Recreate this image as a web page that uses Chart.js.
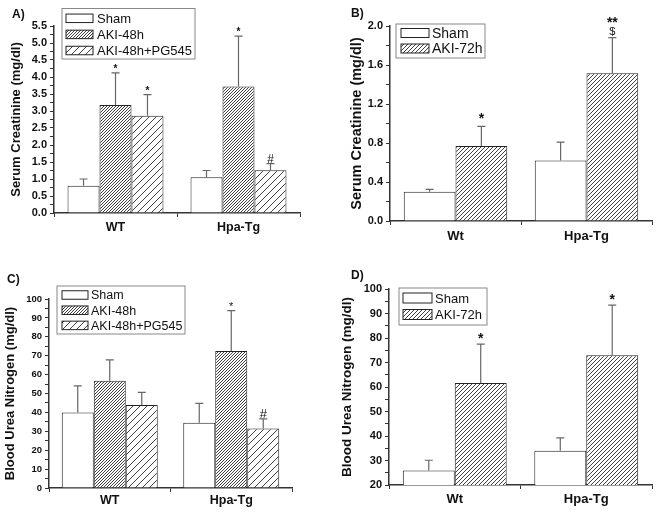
<!DOCTYPE html>
<html>
<head>
<meta charset="utf-8">
<script src="https://cdn.jsdelivr.net/npm/chart.js@4.4.1/dist/chart.umd.min.js"></script>
<style>
  body { margin: 0; background: #fff; }
  #wrap { position: relative; width: 656px; height: 517px; }
  canvas { position: absolute; left: 0; top: 0; }
  .tag { position: absolute; font: bold 12px "Liberation Sans", Arial, sans-serif; color: #111; }
</style>
</head>
<body>
<div id="wrap">
  <canvas id="cA" width="656" height="517"></canvas>
  <canvas id="cB" width="656" height="517"></canvas>
  <canvas id="cC" width="656" height="517"></canvas>
  <canvas id="cD" width="656" height="517"></canvas>
  <div class="tag" style="left:12px;top:7px">A)</div>
  <div class="tag" style="left:351px;top:6px">B)</div>
  <div class="tag" style="left:7px;top:272px">C)</div>
  <div class="tag" style="left:351px;top:268px">D)</div>
</div>
<script>
// groups on the x axis
const groupsA = ["WT", "Hpa-Tg"];
const groupsB = ["Wt", "Hpa-Tg"];

// A) serum creatinine, 48h (mean and upper error)
const shamA = [0.80, 1.05];
const shamErrA = [0.20, 0.20];
const aki48A = [3.18, 3.72];
const aki48ErrA = [0.94, 1.48];
const pg545A = [2.86, 1.26];
const pg545ErrA = [0.62, 0.19];
const marksA = { sham: ["", ""], aki: ["*", "*"], pg: ["*", "#"] };

// B) serum creatinine, 72h
const shamB = [0.30, 0.62];
const shamErrB = [0.025, 0.19];
const aki72B = [0.77, 1.515];
const aki72ErrB = [0.20, 0.365];
const marksB = { sham: ["", ""], aki: ["*", "**\n$"] };

// C) blood urea nitrogen, 48h
const shamC = [40.0, 34.5];
const shamErrC = [14.0, 10.3];
const aki48C = [56.8, 72.5];
const aki48ErrC = [11.0, 21.3];
const pg545C = [43.9, 31.5];
const pg545ErrC = [6.7, 5.1];
const marksC = { sham: ["", ""], aki: ["", "*"], pg: ["", "#"] };

// D) blood urea nitrogen, 72h
const shamD = [25.9, 34.0];
const shamErrD = [4.2, 5.2];
const aki72D = [61.6, 73.0];
const aki72ErrD = [15.9, 20.4];
const marksD = { sham: ["", ""], aki: ["*", "*"] };

const FONT = '"Liberation Sans", Arial, sans-serif';

// diagonal "/" hatch as a canvas pattern
function hatch(ctx, gap) {
  const t = document.createElement("canvas");
  t.width = gap; t.height = gap;
  const g = t.getContext("2d");
  g.fillStyle = "#fff";
  g.fillRect(0, 0, gap, gap);
  g.strokeStyle = "#2a2a2a";
  g.lineWidth = 0.9;
  g.beginPath();
  g.moveTo(0, gap); g.lineTo(gap, 0);
  g.moveTo(-1, 1); g.lineTo(1, -1);
  g.moveTo(gap - 1, gap + 1); g.lineTo(gap + 1, gap - 1);
  g.stroke();
  return ctx.createPattern(t, "repeat");
}

// upper error whiskers + significance marks
const errorBars = {
  id: "errorBars",
  afterDatasetsDraw(chart, args, o) {
    const c = chart.ctx, y = chart.scales.y;
    chart.data.datasets.forEach((ds, i) => {
      chart.getDatasetMeta(i).data.forEach((bar, j) => {
        const top = y.getPixelForValue(ds.data[j] + ds.err[j]);
        c.save();
        c.strokeStyle = "#666";
        c.lineWidth = 1.2;
        c.beginPath();
        c.moveTo(bar.x, bar.y);
        c.lineTo(bar.x, top);
        c.moveTo(bar.x - 4, top);
        c.lineTo(bar.x + 4, top);
        c.stroke();
        const m = ds.marks[j];
        if (m) {
          c.fillStyle = "#111";
          c.textAlign = "center";
          c.textBaseline = "alphabetic";
          m.split("\n").reverse().forEach((t, k) => {
            // stars use the bold mark font, # and $ a lighter one
            c.font = t.indexOf("*") >= 0 ? o.markFont : o.subFont;
            c.fillText(t, bar.x, top - o.markGap - k * o.markLine);
          });
        }
        c.restore();
      });
    });
  }
};

// boxed legend inside the plot, like the original figure
const boxLegend = {
  id: "boxLegend",
  afterDraw(chart, args, o) {
    const c = chart.ctx;
    c.save();
    c.strokeStyle = "#888";
    c.lineWidth = 1;
    c.strokeRect(o.x, o.y, o.w, o.h);
    c.font = o.font;
    c.textBaseline = "middle";
    chart.data.datasets.forEach((ds, i) => {
      const cy = o.row0 + i * o.step;
      c.fillStyle = ds.backgroundColor;
      c.fillRect(o.sx, cy - o.sh / 2, o.sw, o.sh);
      c.strokeStyle = "#222";
      c.strokeRect(o.sx, cy - o.sh / 2, o.sw, o.sh);
      c.fillStyle = "#111";
      c.fillText(ds.label, o.tx, cy + 1);
    });
    c.restore();
  }
};

function buildChart(id, p) {
  const ctx = document.getElementById(id).getContext("2d");
  const datasets = p.series.map(s => ({
    label: s.label,
    data: s.data,
    err: s.err,
    marks: s.marks,
    backgroundColor: s.gap ? hatch(ctx, s.gap) : "#fff",
    borderColor: "#222",
    borderWidth: 1,
    categoryPercentage: p.catPct,
    barPercentage: 1
  }));
  return new Chart(ctx, {
    type: "bar",
    data: { labels: p.labels, datasets: datasets },
    options: {
      responsive: false,
      animation: false,
      layout: {
        padding: { left: p.panelLeft, top: p.top, right: 656 - p.right, bottom: 517 - p.bottom - 30 }
      },
      scales: {
        x: {
          afterFit(s) { s.height = 30; },
          grid: { display: true, drawOnChartArea: false, tickLength: 4, color: "#333" },
          border: { color: "#333", width: 1.5 },
          ticks: { color: "#111", padding: p.xPad, font: { family: FONT, size: p.xFont, weight: "bold" } }
        },
        y: {
          min: p.min,
          max: p.max,
          afterFit(s) { s.width = p.left - p.panelLeft; },
          grid: { display: true, drawOnChartArea: false, tickLength: 4, color: "#333" },
          border: { color: "#333", width: 1.5 },
          ticks: {
            stepSize: p.minor,
            autoSkip: false,
            color: "#111",
            padding: 3,
            font: { family: FONT, size: p.tickFont, weight: "bold" },
            callback(v) {
              const r = v / p.major;
              return Math.abs(r - Math.round(r)) < 1e-6 ? v.toFixed(p.dec) : "";
            }
          },
          title: {
            display: true,
            text: p.yTitle,
            color: "#111",
            padding: { top: p.titlePad, bottom: 0 },
            font: { family: FONT, size: p.titleFont, weight: "bold" }
          }
        }
      },
      plugins: {
        legend: { display: false },
        tooltip: { enabled: false },
        errorBars: p.errOpts,
        boxLegend: p.legend
      }
    },
    plugins: [errorBars, boxLegend]
  });
}

buildChart("cA", {
  labels: groupsA, panelLeft: 0, left: 54, top: 26, right: 300, bottom: 213,
  min: 0, max: 5.5, minor: 0.25, major: 0.5, dec: 1, catPct: 0.78,
  tickFont: 11, xFont: 12.5, xPad: 3, titleFont: 13, titlePad: 8.7,
  yTitle: "Serum Creatinine (mg/dl)",
  series: [
    { label: "Sham", data: shamA, err: shamErrA, marks: marksA.sham, gap: 0 },
    { label: "AKI-48h", data: aki48A, err: aki48ErrA, marks: marksA.aki, gap: 3 },
    { label: "AKI-48h+PG545", data: pg545A, err: pg545ErrA, marks: marksA.pg, gap: 7 }
  ],
  errOpts: { markFont: "bold 10px " + FONT, subFont: "12px " + FONT, markGap: 1, markLine: 8 },
  legend: { x: 62, y: 8.5, w: 133, h: 50.5, row0: 18.3, step: 16.1, sx: 66, sw: 27, sh: 8.5, tx: 97, font: "13px " + FONT }
});

buildChart("cB", {
  labels: groupsB, panelLeft: 330, left: 390, top: 26, right: 652, bottom: 221,
  min: 0, max: 2.0, minor: 0.2, major: 0.4, dec: 1, catPct: 0.79,
  tickFont: 11, xFont: 13, xPad: 4, titleFont: 14.5, titlePad: 18,
  yTitle: "Serum Creatinine (mg/dl)",
  series: [
    { label: "Sham", data: shamB, err: shamErrB, marks: marksB.sham, gap: 0 },
    { label: "AKI-72h", data: aki72B, err: aki72ErrB, marks: marksB.aki, gap: 4 }
  ],
  errOpts: { markFont: "bold 14px " + FONT, subFont: "11px " + FONT, markGap: 3, markLine: 8 },
  legend: { x: 396, y: 24, w: 89, h: 34, row0: 33, step: 15.5, sx: 401, sw: 28, sh: 9, tx: 432, font: "14px " + FONT }
});

buildChart("cC", {
  labels: groupsA, panelLeft: 0, left: 49, top: 299, right: 292, bottom: 488,
  min: 0, max: 100, minor: 5, major: 10, dec: 0, catPct: 0.79,
  tickFont: 9.5, xFont: 12.5, xPad: 1, titleFont: 13, titlePad: 2.7,
  yTitle: "Blood Urea Nitrogen (mg/dl)",
  series: [
    { label: "Sham", data: shamC, err: shamErrC, marks: marksC.sham, gap: 0 },
    { label: "AKI-48h", data: aki48C, err: aki48ErrC, marks: marksC.aki, gap: 3 },
    { label: "AKI-48h+PG545", data: pg545C, err: pg545ErrC, marks: marksC.pg, gap: 7 }
  ],
  errOpts: { markFont: "11px " + FONT, subFont: "13px " + FONT, markGap: 1, markLine: 8 },
  legend: { x: 57, y: 286, w: 128, h: 48, row0: 295, step: 15.2, sx: 62, sw: 26, sh: 8.5, tx: 91, font: "12.5px " + FONT }
});

buildChart("cD", {
  labels: groupsB, panelLeft: 330, left: 389, top: 289, right: 652, bottom: 485,
  min: 20, max: 100, minor: 5, major: 10, dec: 0, catPct: 0.79,
  tickFont: 11, xFont: 13, xPad: 3, titleFont: 13.5, titlePad: 8.9,
  yTitle: "Blood Urea Nitrogen (mg/dl)",
  series: [
    { label: "Sham", data: shamD, err: shamErrD, marks: marksD.sham, gap: 0 },
    { label: "AKI-72h", data: aki72D, err: aki72ErrD, marks: marksD.aki, gap: 4 }
  ],
  errOpts: { markFont: "bold 14px " + FONT, subFont: "12px " + FONT, markGap: 1, markLine: 8 },
  legend: { x: 399, y: 288, w: 88, h: 37, row0: 298, step: 16.5, sx: 403, sw: 29, sh: 10, tx: 435, font: "13px " + FONT }
});
</script>
</body>
</html>
